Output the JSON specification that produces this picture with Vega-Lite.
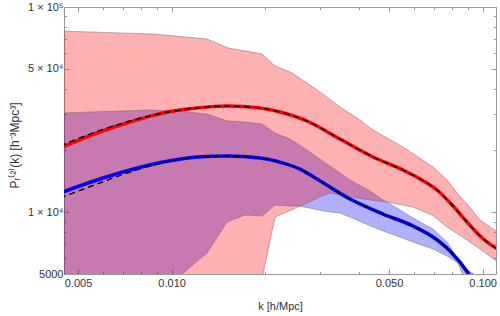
{
  "$schema": "https://vega.github.io/schema/vega-lite/v6.json",
  "width": 432,
  "height": 267,
  "autosize": "none",
  "padding": {"left": 64, "top": 7, "right": 4, "bottom": 42},
  "background": "white",
  "config": {
    "view": {"stroke": null},
    "axis": {
      "grid": false,
      "domainColor": "#999999",
      "domainWidth": 1,
      "tickColor": "#999999",
      "tickWidth": 1,
      "labelFont": "Liberation Sans",
      "labelFontSize": 11,
      "labelColor": "#333333",
      "titleFont": "Liberation Sans",
      "titleFontSize": 11,
      "titleFontWeight": "normal",
      "titleColor": "#333333",
      "labelOverlap": false,
      "labelFlush": false
    }
  },
  "datasets": {
    "bands": [
      {"band": "blue", "k": 0.004376, "hi": 30440, "lo": 2667},
      {"band": "blue", "k": 0.008520, "hi": 31480, "lo": 3693},
      {"band": "blue", "k": 0.010801, "hi": 30950, "lo": 4998},
      {"band": "blue", "k": 0.012996, "hi": 30100, "lo": 6326},
      {"band": "blue", "k": 0.015069, "hi": 27830, "lo": 8959},
      {"band": "blue", "k": 0.017218, "hi": 27520, "lo": 9691},
      {"band": "blue", "k": 0.019525, "hi": 26900, "lo": 9582},
      {"band": "blue", "k": 0.021497, "hi": 24320, "lo": 10841},
      {"band": "blue", "k": 0.024025, "hi": 22730, "lo": 10720},
      {"band": "blue", "k": 0.025491, "hi": 21490, "lo": 10720},
      {"band": "blue", "k": 0.027246, "hi": 20090, "lo": 10541},
      {"band": "blue", "k": 0.031592, "hi": 17170, "lo": 10079},
      {"band": "blue", "k": 0.034783, "hi": 15520, "lo": 9911},
      {"band": "blue", "k": 0.037459, "hi": 14350, "lo": 9476},
      {"band": "blue", "k": 0.043440, "hi": 12690, "lo": 8589},
      {"band": "blue", "k": 0.047827, "hi": 11470, "lo": 8098},
      {"band": "blue", "k": 0.053050, "hi": 10480, "lo": 7658},
      {"band": "blue", "k": 0.059735, "hi": 9370, "lo": 7159},
      {"band": "blue", "k": 0.069255, "hi": 8283, "lo": 6617},
      {"band": "blue", "k": 0.07683, "hi": 7159, "lo": 6116},
      {"band": "blue", "k": 0.08150, "hi": 6185, "lo": 5783},
      {"band": "blue", "k": 0.08584, "hi": 5054, "lo": 5467},
      {"band": "blue", "k": 0.08975, "hi": 4178, "lo": 5227},
      {"band": "blue", "k": 0.09453, "hi": 3337, "lo": 4942},
      {"band": "blue", "k": 0.09810, "hi": 2983, "lo": 4569},
      {"band": "red", "k": 0.004376, "hi": 76380, "lo": 2383},
      {"band": "red", "k": 0.008712, "hi": 73860, "lo": 2383},
      {"band": "red", "k": 0.012996, "hi": 69830, "lo": 2383},
      {"band": "red", "k": 0.015181, "hi": 63120, "lo": 2437},
      {"band": "red", "k": 0.018001, "hi": 60350, "lo": 2636},
      {"band": "red", "k": 0.019525, "hi": 59010, "lo": 4726},
      {"band": "red", "k": 0.019671, "hi": 58360, "lo": 4998},
      {"band": "red", "k": 0.021497, "hi": 51570, "lo": 9476},
      {"band": "red", "k": 0.024025, "hi": 48220, "lo": 10192},
      {"band": "red", "k": 0.025491, "hi": 45590, "lo": 10600},
      {"band": "red", "k": 0.027246, "hi": 42620, "lo": 11087},
      {"band": "red", "k": 0.029997, "hi": 38520, "lo": 11858},
      {"band": "red", "k": 0.032303, "hi": 35420, "lo": 12406},
      {"band": "red", "k": 0.034783, "hi": 32550, "lo": 12126},
      {"band": "red", "k": 0.039450, "hi": 28780, "lo": 11765},
      {"band": "red", "k": 0.044419, "hi": 25150, "lo": 11414},
      {"band": "red", "k": 0.049268, "hi": 22990, "lo": 11212},
      {"band": "red", "k": 0.055460, "hi": 20790, "lo": 10841},
      {"band": "red", "k": 0.059735, "hi": 19280, "lo": 10600},
      {"band": "red", "k": 0.069255, "hi": 16600, "lo": 9637},
      {"band": "red", "k": 0.07683, "hi": 14350, "lo": 8470},
      {"band": "red", "k": 0.08273, "hi": 12410, "lo": 7873},
      {"band": "red", "k": 0.08909, "hi": 10960, "lo": 7322},
      {"band": "red", "k": 0.09810, "hi": 9162, "lo": 6617},
      {"band": "red", "k": 0.1104, "hi": 8098, "lo": 5803},
      {"band": "red", "k": 0.1138, "hi": 7918, "lo": 5655}
    ],
    "lines": [
      {"series": "red", "k": 0.004376, "P": 20550},
      {"series": "red", "k": 0.005755, "P": 24320},
      {"series": "red", "k": 0.007349, "P": 27520},
      {"series": "red", "k": 0.009383, "P": 30440},
      {"series": "red", "k": 0.012069, "P": 32190},
      {"series": "red", "k": 0.015069, "P": 32920},
      {"series": "red", "k": 0.019238, "P": 32190},
      {"series": "red", "k": 0.022309, "P": 30780},
      {"series": "red", "k": 0.027246, "P": 27830},
      {"series": "red", "k": 0.034783, "P": 22730},
      {"series": "red", "k": 0.044419, "P": 18580},
      {"series": "red", "k": 0.05546, "P": 16050},
      {"series": "red", "k": 0.06292, "P": 14520},
      {"series": "red", "k": 0.071335, "P": 12830},
      {"series": "red", "k": 0.08032, "P": 10720},
      {"series": "red", "k": 0.08909, "P": 8959},
      {"series": "red", "k": 0.09810, "P": 7658},
      {"series": "red", "k": 0.1104, "P": 6692},
      {"series": "red", "k": 0.1138, "P": 6543},
      {"series": "reddash", "k": 0.004376, "P": 21020},
      {"series": "reddash", "k": 0.005755, "P": 24730},
      {"series": "reddash", "k": 0.007349, "P": 27830},
      {"series": "reddash", "k": 0.009383, "P": 30440},
      {"series": "reddash", "k": 0.012069, "P": 32190},
      {"series": "reddash", "k": 0.015069, "P": 32920},
      {"series": "reddash", "k": 0.019238, "P": 32190},
      {"series": "reddash", "k": 0.022309, "P": 30780},
      {"series": "reddash", "k": 0.027246, "P": 27830},
      {"series": "reddash", "k": 0.034783, "P": 22730},
      {"series": "reddash", "k": 0.044419, "P": 18580},
      {"series": "reddash", "k": 0.05546, "P": 16050},
      {"series": "reddash", "k": 0.06292, "P": 14520},
      {"series": "reddash", "k": 0.071335, "P": 12830},
      {"series": "reddash", "k": 0.08032, "P": 10720},
      {"series": "reddash", "k": 0.08909, "P": 8959},
      {"series": "reddash", "k": 0.09810, "P": 7658},
      {"series": "reddash", "k": 0.1104, "P": 6692},
      {"series": "reddash", "k": 0.1138, "P": 6543},
      {"series": "blue", "k": 0.004376, "P": 12410},
      {"series": "blue", "k": 0.005755, "P": 14350},
      {"series": "blue", "k": 0.007349, "P": 16050},
      {"series": "blue", "k": 0.009383, "P": 17560},
      {"series": "blue", "k": 0.012069, "P": 18580},
      {"series": "blue", "k": 0.015069, "P": 18790},
      {"series": "blue", "k": 0.019238, "P": 18370},
      {"series": "blue", "k": 0.022808, "P": 17360},
      {"series": "blue", "k": 0.025870, "P": 16230},
      {"series": "blue", "k": 0.029340, "P": 14520},
      {"series": "blue", "k": 0.037459, "P": 11595},
      {"series": "blue", "k": 0.047827, "P": 9800},
      {"series": "blue", "k": 0.059735, "P": 8565},
      {"series": "blue", "k": 0.069255, "P": 7572},
      {"series": "blue", "k": 0.07855, "P": 6470},
      {"series": "blue", "k": 0.08975, "P": 5054},
      {"series": "blue", "k": 0.09663, "P": 4178},
      {"series": "bluedash", "k": 0.004376, "P": 11726},
      {"series": "bluedash", "k": 0.005755, "P": 13725},
      {"series": "bluedash", "k": 0.007349, "P": 15700},
      {"series": "bluedash", "k": 0.009383, "P": 17462},
      {"series": "bluedash", "k": 0.012069, "P": 18580},
      {"series": "bluedash", "k": 0.015069, "P": 18790},
      {"series": "bluedash", "k": 0.019238, "P": 18370},
      {"series": "bluedash", "k": 0.022808, "P": 17360},
      {"series": "bluedash", "k": 0.025870, "P": 16230},
      {"series": "bluedash", "k": 0.029340, "P": 14520},
      {"series": "bluedash", "k": 0.037459, "P": 11595},
      {"series": "bluedash", "k": 0.047827, "P": 9800},
      {"series": "bluedash", "k": 0.059735, "P": 8565},
      {"series": "bluedash", "k": 0.069255, "P": 7572},
      {"series": "bluedash", "k": 0.07855, "P": 6470},
      {"series": "bluedash", "k": 0.08975, "P": 5054},
      {"series": "bluedash", "k": 0.09663, "P": 4178}
    ]
  },
  "layer": [
    {
      "data": {"name": "bands"},
      "transform": [{"filter": "datum.band == 'blue'"}],
      "mark": {"type": "area", "clip": true, "color": "#0000FF", "opacity": 0.31},
      "encoding": {
        "x": {
          "field": "k", "type": "quantitative",
          "scale": {"type": "log", "domain": [0.004508, 0.1104], "nice": false, "zero": false},
          "axis": {
            "orient": "bottom",
            "values": [0.005, 0.006, 0.007, 0.008, 0.009, 0.01, 0.02, 0.03, 0.04, 0.05, 0.06, 0.07, 0.08, 0.09, 0.1],
            "labelExpr": "datum.value == 0.005 ? '0.005' : datum.value == 0.01 ? '0.010' : datum.value == 0.05 ? '0.050' : datum.value == 0.1 ? '0.100' : ''",
            "tickSize": {"condition": {"test": "indexof([0.005, 0.01, 0.05, 0.1], datum.value) >= 0", "value": -5}, "value": -2.5},
            "labelPadding": 8,
            "title": "k [h/Mpc]",
            "titleBaseline": "middle",
            "titleY": 32
          }
        },
        "y": {
          "field": "lo", "type": "quantitative",
          "scale": {"type": "log", "domain": [5000, 100000], "nice": false, "zero": false},
          "axis": {
            "orient": "left",
            "values": [5000, 6000, 7000, 8000, 9000, 10000, 20000, 30000, 40000, 50000, 60000, 70000, 80000, 90000, 100000],
            "labelExpr": "datum.value == 100000 ? '1 × 10⁵' : datum.value == 50000 ? '5 × 10⁴' : datum.value == 10000 ? '1 × 10⁴' : datum.value == 5000 ? '5000' : ''",
            "tickSize": {"condition": {"test": "indexof([5000, 10000, 50000, 100000], datum.value) >= 0", "value": -5}, "value": -2.5},
            "labelPadding": 6,
            "title": "Pᵣ⁽²⁾(k) [h⁻³Mpc³]",
            "titleAngle": -90,
            "titleBaseline": "middle",
            "titleAlign": "center",
            "titleFontSize": 12,
            "titleX": -50,
            "titleY": 138
          }
        },
        "y2": {"field": "hi"}
      }
    },
    {
      "data": {"name": "bands"},
      "transform": [{"filter": "datum.band == 'red'"}],
      "mark": {"type": "area", "clip": true, "color": "#FF0000", "opacity": 0.31},
      "encoding": {
        "x": {"field": "k", "type": "quantitative", "axis": null},
        "y": {"field": "lo", "type": "quantitative", "axis": null},
        "y2": {"field": "hi"}
      }
    },
    {
      "data": {"name": "bands"},
      "mark": {"type": "line", "clip": true, "color": "#666666", "strokeWidth": 0.6, "opacity": 0.8},
      "encoding": {
        "x": {"field": "k", "type": "quantitative", "axis": null},
        "y": {"field": "lo", "type": "quantitative", "axis": null},
        "detail": {"field": "band"}
      }
    },
    {
      "data": {"name": "bands"},
      "mark": {"type": "line", "clip": true, "color": "#666666", "strokeWidth": 0.6, "opacity": 0.8},
      "encoding": {
        "x": {"field": "k", "type": "quantitative", "axis": null},
        "y": {"field": "hi", "type": "quantitative", "axis": null},
        "detail": {"field": "band"}
      }
    },
    {
      "data": {"name": "lines"},
      "transform": [{"filter": "datum.series == 'red' || datum.series == 'blue'"}],
      "mark": {"type": "line", "clip": true, "strokeWidth": 3.5, "interpolate": "monotone"},
      "encoding": {
        "x": {"field": "k", "type": "quantitative", "axis": null},
        "y": {"field": "P", "type": "quantitative", "axis": null},
        "color": {"field": "series", "type": "nominal", "scale": {"domain": ["red", "blue"], "range": ["#FF0000", "#0000FF"]}, "legend": null}
      }
    },
    {
      "data": {"name": "lines"},
      "transform": [{"filter": "datum.series == 'reddash' || datum.series == 'bluedash'"}],
      "mark": {"type": "line", "clip": true, "strokeWidth": 1.4, "color": "#000000", "strokeDash": [6, 4], "interpolate": "monotone"},
      "encoding": {
        "x": {
          "field": "k", "type": "quantitative",
          "axis": {
            "orient": "top",
            "values": [0.005, 0.006, 0.007, 0.008, 0.009, 0.01, 0.02, 0.03, 0.04, 0.05, 0.06, 0.07, 0.08, 0.09, 0.1],
            "labels": false,
            "tickSize": {"condition": {"test": "indexof([0.005, 0.01, 0.05, 0.1], datum.value) >= 0", "value": -5}, "value": -2.5},
            "title": null
          }
        },
        "y": {
          "field": "P", "type": "quantitative",
          "axis": {
            "orient": "right",
            "values": [5000, 6000, 7000, 8000, 9000, 10000, 20000, 30000, 40000, 50000, 60000, 70000, 80000, 90000, 100000],
            "labels": false,
            "tickSize": {"condition": {"test": "indexof([5000, 10000, 50000, 100000], datum.value) >= 0", "value": -5}, "value": -2.5},
            "title": null
          }
        },
        "detail": {"field": "series"}
      }
    }
  ],
  "resolve": {"axis": {"x": "independent", "y": "independent"}}
}
